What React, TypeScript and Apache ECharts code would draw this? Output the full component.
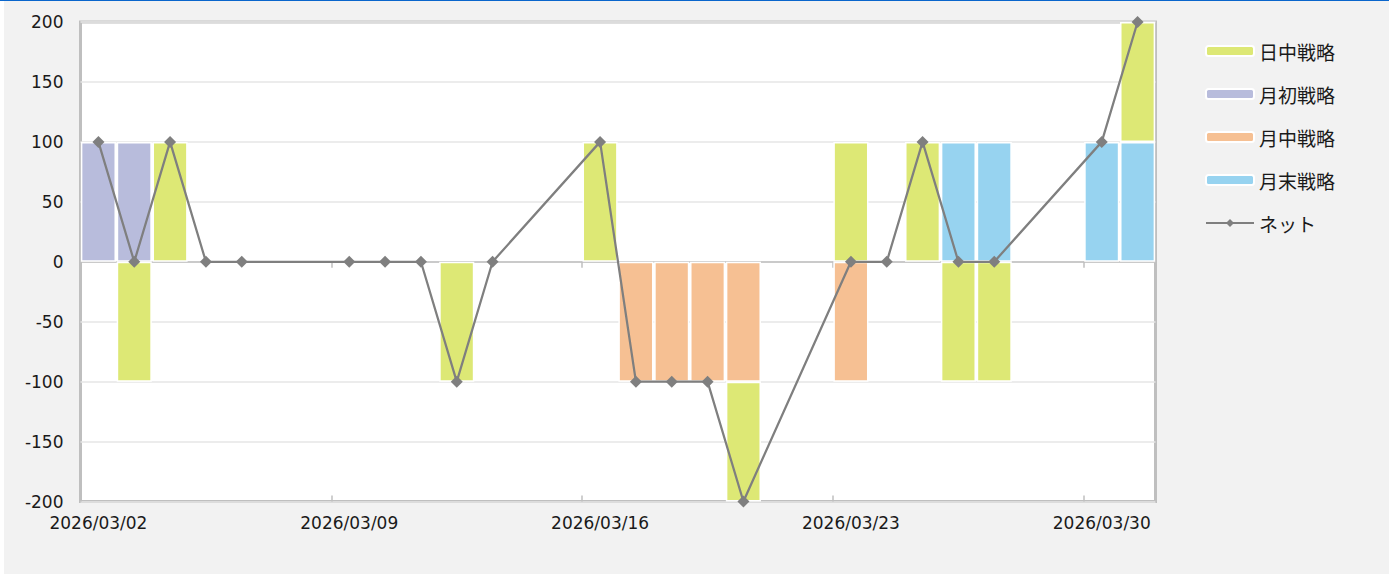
import React, { useEffect, useRef } from "react";
import * as echarts from "echarts";

const dates: string[] = [
  "2026/03/02", "2026/03/03", "2026/03/04", "2026/03/05", "2026/03/06", "2026/03/07", "2026/03/08",
  "2026/03/09", "2026/03/10", "2026/03/11", "2026/03/12", "2026/03/13", "2026/03/14", "2026/03/15",
  "2026/03/16", "2026/03/17", "2026/03/18", "2026/03/19", "2026/03/20", "2026/03/21", "2026/03/22",
  "2026/03/23", "2026/03/24", "2026/03/25", "2026/03/26", "2026/03/27", "2026/03/28", "2026/03/29",
  "2026/03/30", "2026/03/31",
];

const N = null;
// 日中戦略
const intraday: (number | null)[] = [
  N, -100, 100, N, N, N, N,
  N, N, N, -100, N, N, N,
  100, N, N, N, -100, N, N,
  100, N, 100, -100, -100, N, N,
  N, 100,
];
// 月初戦略
const monthStart: (number | null)[] = [
  100, 100, N, N, N, N, N,
  N, N, N, N, N, N, N,
  N, N, N, N, N, N, N,
  N, N, N, N, N, N, N,
  N, N,
];
// 月中戦略
const monthMid: (number | null)[] = [
  N, N, N, N, N, N, N,
  N, N, N, N, N, N, N,
  N, -100, -100, -100, -100, N, N,
  -100, N, N, N, N, N, N,
  N, N,
];
// 月末戦略
const monthEnd: (number | null)[] = [
  N, N, N, N, N, N, N,
  N, N, N, N, N, N, N,
  N, N, N, N, N, N, N,
  N, N, N, 100, 100, N, N,
  100, 100,
];
// ネット
const net: (number | null)[] = [
  100, 0, 100, 0, 0, N, N,
  0, 0, 0, -100, 0, N, N,
  100, -100, -100, -100, -200, N, N,
  0, 0, 100, 0, 0, N, N,
  100, 200,
];

const yTicks = { min: -200, max: 200, interval: 50 };

const COLORS = {
  intraday: "#dde875",
  monthStart: "#b8bcdc",
  monthMid: "#f6c093",
  monthEnd: "#97d3f0",
  net: "#7f7f7f",
};

const AXIS_FONT = "'DejaVu Sans', Verdana, sans-serif";
const CJK_FONT = "'Noto Sans CJK JP', 'DejaVu Sans', sans-serif";

export default function App() {
  const ref = useRef<HTMLDivElement>(null);

  useEffect(() => {
    if (!ref.current) return;
    const chart = echarts.init(ref.current, undefined, { renderer: "svg" });
    const tickInterval = (i: number) => i % 7 === 0;
    const barCommon = {
      type: "bar" as const,
      stack: "total",
      barCategoryGap: "2%",
      xAxisIndex: 0,
      itemStyle: { borderColor: "#ffffff", borderWidth: 1.5 },
    };
    chart.setOption({
      animation: false,
      backgroundColor: "#f2f2f2",
      textStyle: { fontFamily: AXIS_FONT },
      grid: {
        left: 76.5,
        top: 21,
        right: 233.5,
        bottom: 72.5,
        show: true,
        backgroundColor: "#ffffff",
        borderColor: "#bfbfbf",
        borderWidth: 3,
        containLabel: false,
      },
      legend: {
        orient: "vertical",
        left: 1196,
        top: 35,
        itemWidth: 48,
        itemHeight: 10,
        itemGap: 23,
        data: ["日中戦略", "月初戦略", "月中戦略", "月末戦略", "ネット"],
        textStyle: { fontFamily: CJK_FONT, fontSize: 19, color: "#1a1a1a", lineHeight: 20 },
      },
      xAxis: [
        {
          type: "category",
          data: dates,
          position: "bottom",
          axisLine: { show: false, onZero: false },
          axisTick: { show: false },
          axisLabel: {
            interval: 6,
            margin: 13,
            fontSize: 17,
            color: "#1a1a1a",
            fontFamily: AXIS_FONT,
          },
          splitLine: { show: false },
        },
        {
          type: "category",
          data: dates,
          position: "bottom",
          axisLine: { show: true, onZero: true, lineStyle: { color: "#bfbfbf", width: 1.5 } },
          axisTick: { show: true, interval: (i: number) => tickInterval(i), length: 6, lineStyle: { color: "#bfbfbf", width: 1.5 } },
          axisLabel: { show: false },
          splitLine: { show: false },
        },
        {
          type: "category",
          data: dates,
          position: "bottom",
          axisLine: { show: false, onZero: true },
          axisTick: { show: true, inside: true, interval: (i: number) => tickInterval(i), length: 6, lineStyle: { color: "#bfbfbf", width: 1.5 } },
          axisLabel: { show: false },
          splitLine: { show: false },
        },
      ],
      yAxis: {
        type: "value",
        min: yTicks.min,
        max: yTicks.max,
        interval: yTicks.interval,
        axisLine: { show: false },
        axisTick: { show: false },
        axisLabel: { fontSize: 17, margin: 17, color: "#1a1a1a", fontFamily: AXIS_FONT },
        splitLine: { show: true, lineStyle: { color: "#e6e6e6", width: 1.5 } },
      },
      series: [
        { ...barCommon, name: "月初戦略", data: monthStart, itemStyle: { ...barCommon.itemStyle, color: COLORS.monthStart } },
        { ...barCommon, name: "月中戦略", data: monthMid, itemStyle: { ...barCommon.itemStyle, color: COLORS.monthMid } },
        { ...barCommon, name: "月末戦略", data: monthEnd, itemStyle: { ...barCommon.itemStyle, color: COLORS.monthEnd } },
        { ...barCommon, name: "日中戦略", data: intraday, itemStyle: { ...barCommon.itemStyle, color: COLORS.intraday } },
        {
          name: "ネット",
          type: "line",
          xAxisIndex: 0,
          data: net,
          connectNulls: true,
          symbol: "diamond",
          symbolSize: 12,
          z: 5,
          lineStyle: { color: COLORS.net, width: 2.25 },
          itemStyle: { color: COLORS.net },
        },
      ],
    });
    return () => chart.dispose();
  }, []);

  return (
    <div
      style={{
        position: "fixed",
        left: 0,
        top: 0,
        width: 1389,
        height: 574,
        background: "#ffffff",
        borderTop: "1px solid #0a66cc",
        boxSizing: "border-box",
      }}
    >
      <div ref={ref} style={{ position: "absolute", left: 4, top: 0, width: 1385, height: 573 }} />
    </div>
  );
}
